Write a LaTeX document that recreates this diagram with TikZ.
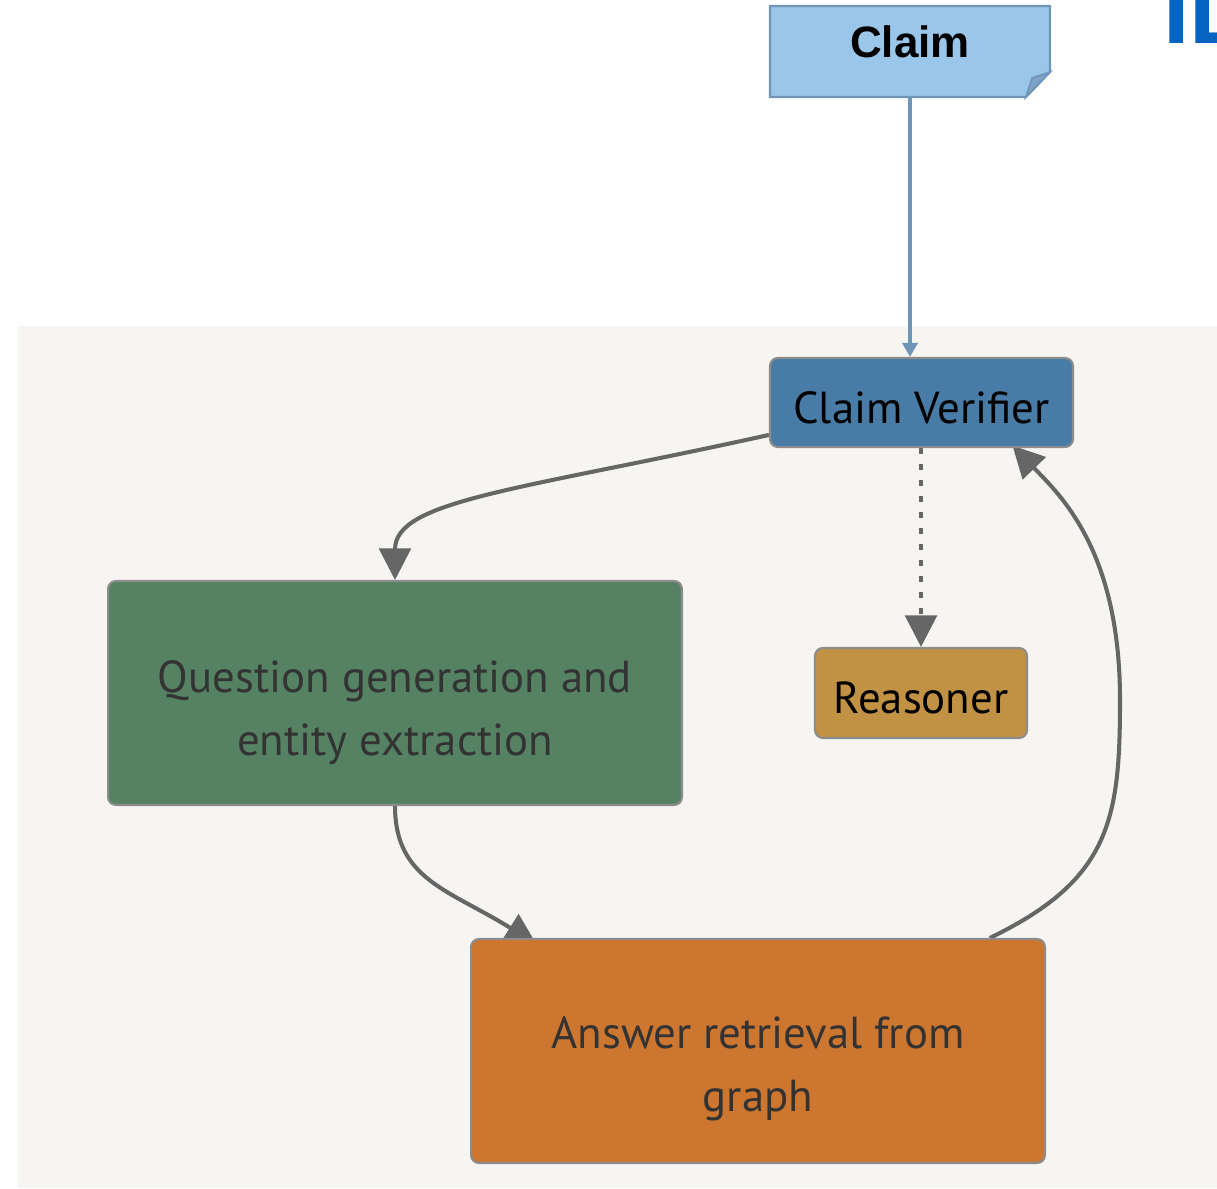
\documentclass[tikz,border=0pt]{standalone}
\usepackage{fontspec}
\setmainfont{PT Sans}
\newfontfamily\claimfont{Liberation Sans}
\usetikzlibrary{arrows.meta}

\definecolor{panelgrey}{HTML}{F6F5F2}
\definecolor{claimblue}{HTML}{9AC6E9}
\definecolor{claimedge}{HTML}{7195B7}
\definecolor{claimfold}{HTML}{7DA3C6}
\definecolor{verifierblue}{HTML}{487BA6}
\definecolor{questgreen}{HTML}{558263}
\definecolor{reasongold}{HTML}{C19243}
\definecolor{answerorange}{HTML}{CD762F}
\definecolor{boxedge}{HTML}{8C8C8C}
\definecolor{flowgrey}{HTML}{666666}
\definecolor{textgrey}{HTML}{333333}
\definecolor{titleblue}{HTML}{0563C1}

\pgfdeclarelayer{panel}
\pgfdeclarelayer{edges}
\pgfsetlayers{panel,edges,main}

\tikzset{
  box/.style={draw=boxedge, line width=1.2pt, rounded corners=4.5pt, inner sep=0pt},
  boxtext/.style={align=center, inner sep=0pt, font=\fontsize{25.5}{36}\selectfont},
  flow/.style={draw=flowgrey, line width=2.3pt, -{Triangle[width=18pt,length=18pt]}},
  claimline/.style={draw=claimedge, line width=2pt, -{Triangle[width=8.5pt,length=8pt]}},
}

\begin{document}
\begin{tikzpicture}[x=0.02cm, y=-0.02cm]
\useasboundingbox (0,0) rectangle (1217,1188);

% grey panel
\begin{pgfonlayer}{panel}
\fill[panelgrey] (18,326) rectangle (1217,1188);
\end{pgfonlayer}

% banner text, cut at the edge
\begin{scope}
\clip (0,0) rectangle (1217,1188);
\node[anchor=base west, inner sep=0pt, text=titleblue,
      font=\claimfont\bfseries\fontsize{54}{60}\selectfont] (banner) at (1163,43) {IL};
\end{scope}

% claim note with folded corner
\filldraw[fill=claimblue, draw=claimedge, line width=1.2pt]
  (770,6) -- (1050,6) -- (1050,72) -- (1026,97) -- (770,97) -- cycle;
\filldraw[fill=claimfold, draw=claimedge, line width=1pt]
  (1050,72) -- (1032,78) -- (1026,97) -- cycle;
\node[minimum width=5.6cm, minimum height=1.82cm, inner sep=0pt,
      label={[yshift=5.7pt, font=\claimfont\bfseries\fontsize{25}{30}\selectfont]center:Claim}]
  (claim) at (910,51.5) {};

% boxes
\node[box, fill=verifierblue, minimum width=6.06cm, minimum height=1.78cm,
      label={[boxtext, yshift=-3pt]center:Claim Verifier}] (verifier) at (921.5,402.5) {};
\node[box, fill=questgreen, minimum width=11.48cm, minimum height=4.48cm,
      label={[boxtext, text=textgrey, yshift=-11pt]center:Question generation and\\entity extraction}]
  (question) at (395,693) {};
\node[box, fill=reasongold, minimum width=4.24cm, minimum height=1.8cm,
      label={[boxtext, yshift=-3pt]center:Reasoner}] (reasoner) at (921,693) {};
\node[box, fill=answerorange, minimum width=11.48cm, minimum height=4.48cm,
      label={[boxtext, text=textgrey, yshift=-10pt]center:Answer retrieval from\\graph}]
  (answer) at (758,1051) {};

% connectors
\begin{pgfonlayer}{edges}
\draw[claimline] (claim.south) -- (claim.south |- verifier.north);
\draw[flow] (verifier.192) .. controls (520,490) and (395,500) .. (question.north);
\draw[flow, dash pattern=on 3.4pt off 5.7pt] (reasoner.north |- verifier.south) -- (reasoner.north);
\draw[flow, shorten >=-7pt] (question.south) .. controls (395,880) and (450,890) .. (answer.154);
\draw[flow, shorten >=-2pt] (answer.26.5) .. controls (1110,880) and (1120,820) .. (1120,700)
  .. controls (1120,550) and (1060,495) .. (verifier.-26);
\end{pgfonlayer}
\end{tikzpicture}
\end{document}
